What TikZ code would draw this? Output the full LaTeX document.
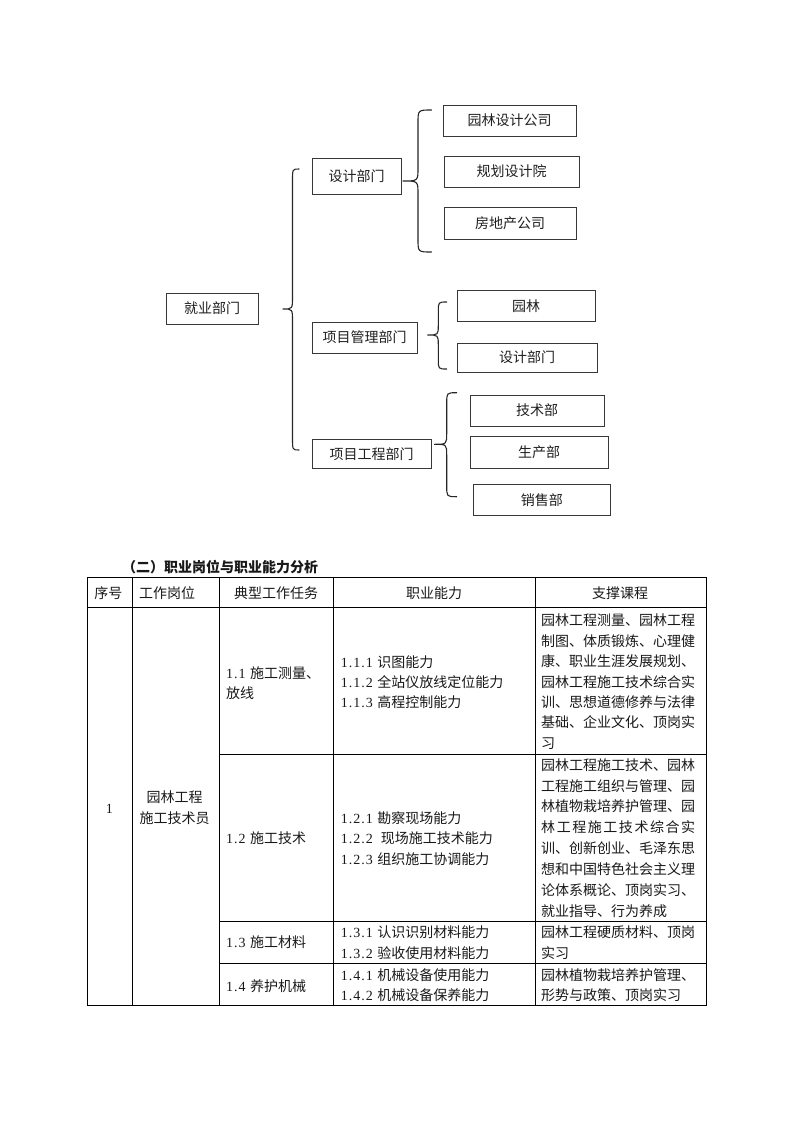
\documentclass[tikz,border=0pt]{standalone}
\usepackage{fontspec}
\newfontfamily\cjk{Noto Sans CJK SC}
\newfontfamily\dig{Liberation Serif}
\def\hw#1{{\dig\hwA#1\relax}}
\def\hwA#1{\ifx#1\relax\else#1\kern1pt\expandafter\hwA\fi}
\newcommand\hsp{\hspace{3.5pt}}
\newcommand\brc[7]{% xtip ytip xv xend ytop ybot r
  \draw[brace] (#4,#5) .. controls (#3,#5) .. (#3,#5+#7) -- (#3,#2-#7)
    .. controls (#3,#2) .. (#1,#2) .. controls (#3,#2) .. (#3,#2+#7)
    -- (#3,#6-#7) .. controls (#3,#6) .. (#4,#6);}
\begin{document}
\begin{tikzpicture}[x=1pt,y=-1pt,
  box/.style={draw=black!78, line width=1pt, inner sep=0pt, text=black!88,
    font=\cjk\fontsize{14}{16}\selectfont},
  brace/.style={draw=black!85, line width=1.1pt, line cap=round},
  lbl/.style={anchor=base west, inner sep=0pt, yshift=-5.3pt, text=black!90,
    font=\cjk\fontsize{14}{16}\selectfont},
  clbl/.style={lbl, anchor=base},
  grid/.style={draw=black, line width=1pt}]
\fill[white] (0,0) rectangle (793,1122);
\useasboundingbox (0,0) rectangle (793,1122);

% ---------- top chart ----------
\node[box, minimum width=92pt, minimum height=31pt] (jy) at (212,308.5) {就业部门};
\node[box, minimum width=89pt, minimum height=36pt] (sj) at (356.5,176.5) {设计部门};
\node[box, minimum width=105pt, minimum height=31pt] (xg) at (364.5,337.5) {项目管理部门};
\node[box, minimum width=119pt, minimum height=29pt] (xc) at (371.5,453.75) {项目工程部门};
\node[box, minimum width=133pt, minimum height=31pt] (s1) at (509.5,120.5) {园林设计公司};
\node[box, minimum width=135pt, minimum height=31pt] (s2) at (511.5,171.5) {规划设计院};
\node[box, minimum width=132pt, minimum height=32pt] (s3) at (510,223) {房地产公司};
\node[box, minimum width=138pt, minimum height=31pt] (g1) at (526,306) {园林};
\node[box, minimum width=140pt, minimum height=29pt] (g2) at (527,357.5) {设计部门};
\node[box, minimum width=134pt, minimum height=31pt] (c1) at (537,410.5) {技术部};
\node[box, minimum width=138pt, minimum height=31.5pt] (c2) at (539,452.25) {生产部};
\node[box, minimum width=136.5pt, minimum height=31.5pt] (c3) at (541.75,499.75) {销售部};

\brc{282.7}{309}{292.5}{299}{169}{450}{12}
\brc{402.5}{181}{418}{431.5}{110}{252}{13}
\brc{427.3}{335}{438.3}{446.7}{302}{369}{10}
\brc{434}{444.3}{446.7}{456.7}{392.7}{496.7}{11}

% ---------- table ----------
\node[lbl, font=\cjk\bfseries\fontsize{14}{16}\selectfont] (title) at (122,567) {（二）职业岗位与职业能力分析};

\draw[grid] (87,577) -- (706,577);
\draw[grid] (87,607.5) -- (706,607.5);
\draw[grid] (219.5,754.5) -- (706,754.5);
\draw[grid] (219.5,921) -- (706,921);
\draw[grid] (219.5,963) -- (706,963);
\draw[grid] (87,1005.5) -- (706,1005.5);
\foreach \x in {87,132.3,219.5,333.5,535,706}
  \draw[grid] (\x,577) -- (\x,1005.5);

\node[clbl] (h1) at (108.3,593.3) {序号};
\node[clbl] (h2) at (167,593.3) {工作岗位};
\node[clbl] (h3) at (276,593.3) {典型工作任务};
\node[clbl] (h4) at (434,593.3) {职业能力};
\node[clbl] (h5) at (620,593.3) {支撑课程};

\node[clbl] (n1) at (109.4,808.3) {\dig 1};
\node[clbl] (p1) at (174.7,797.3) {园林工程};
\node[clbl] (p2) at (174.7,817.7) {施工技术员};

\node[lbl] (t1a) at (226,673) {\hw{1.1}\hsp 施工测量、};
\node[lbl] (t1b) at (226,693) {放线};
\node[lbl] (t2) at (226,838.3) {\hw{1.2}\hsp 施工技术};
\node[lbl] (t3) at (226,942.3) {\hw{1.3}\hsp 施工材料};
\node[lbl] (t4) at (226,985.7) {\hw{1.4}\hsp 养护机械};

\node[lbl] (a11) at (340.7,661.7) {\hw{1.1.1}\hsp 识图能力};
\node[lbl] (a12) at (340.7,681.7) {\hw{1.1.2}\hsp 全站仪放线定位能力};
\node[lbl] (a13) at (340.7,701.7) {\hw{1.1.3}\hsp 高程控制能力};
\node[lbl] (a21) at (340.7,817.7) {\hw{1.2.1}\hsp 勘察现场能力};
\node[lbl] (a22) at (340.7,838.3) {\hw{1.2.2}\hspace{7pt}现场施工技术能力};
\node[lbl] (a23) at (340.7,859) {\hw{1.2.3}\hsp 组织施工协调能力};
\node[lbl] (a31) at (340.7,932.3) {\hw{1.3.1}\hsp 认识识别材料能力};
\node[lbl] (a32) at (340.7,952.7) {\hw{1.3.2}\hsp 验收使用材料能力};
\node[lbl] (a41) at (340.7,975) {\hw{1.4.1}\hsp 机械设备使用能力};
\node[lbl] (a42) at (340.7,995) {\hw{1.4.2}\hsp 机械设备保养能力};

\foreach \t [count=\i] in {园林工程测量、园林工程, 制图、体质锻炼、心理健,
  康、职业生涯发展规划、, 园林工程施工技术综合实, 训、思想道德修养与法律,
  基础、企业文化、顶岗实, 习}
  \node[lbl] (ka\i) at (541, 600.1+20.4*\i) {\t};
\foreach \t [count=\i] in {园林工程施工技术、园林, 工程施工组织与管理、园,
  林植物栽培养护管理、园,
  {\hbox to 154pt{林\hfil 工\hfil 程\hfil 施\hfil 工\hfil 技\hfil 术\hfil 综\hfil 合\hfil 实}},
  训、创新创业、毛泽东思, 想和中国特色社会主义理, 论体系概论、顶岗实习、,
  就业指导、行为养成}
  \node[lbl] (kb\i) at (541, 744.1+20.86*\i) {\t};
\node[lbl] (kc1) at (541,932.3) {园林工程硬质材料、顶岗};
\node[lbl] (kc2) at (541,952.7) {实习};
\node[lbl] (kd1) at (541,975) {园林植物栽培养护管理、};
\node[lbl] (kd2) at (541,995) {形势与政策、顶岗实习};
\end{tikzpicture}
\end{document}
